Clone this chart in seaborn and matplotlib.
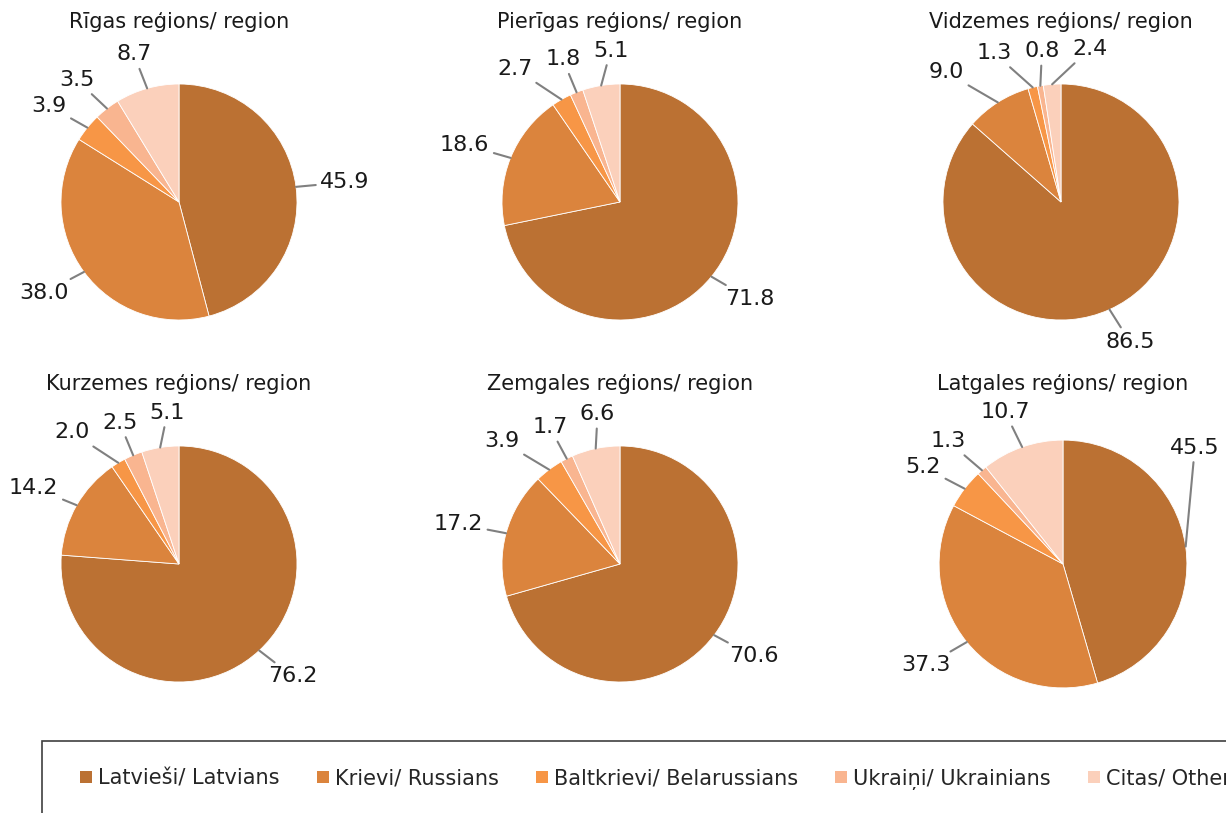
import numpy as np
import matplotlib
matplotlib.use('Agg')
import matplotlib.pyplot as plt
from matplotlib.patches import Rectangle, Patch
import seaborn as sns

sns.set_theme(style='white')
plt.rcParams['font.family'] = ['DejaVu Sans']

regions = ['Rīgas reģions/ region', 'Pierīgas reģions/ region', 'Vidzemes reģions/ region',
           'Kurzemes reģions/ region', 'Zemgales reģions/ region', 'Latgales reģions/ region']
groups = ['Latvieši/ Latvians', 'Krievi/ Russians', 'Baltkrievi/ Belarussians',
          'Ukraiņi/ Ukrainians', 'Citas/ Others']
latvians = [45.9, 71.8, 86.5, 76.2, 70.6, 45.5]
russians = [38.0, 18.6, 9.0, 14.2, 17.2, 37.3]
belarussians = [3.9, 2.7, 1.3, 2.0, 3.9, 5.2]
ukrainians = [3.5, 1.8, 0.8, 2.5, 1.7, 1.3]
others = [8.7, 5.1, 2.4, 5.1, 6.6, 10.7]

colors = ['#BB7133', '#DB843D', '#F79646', '#F9B590', '#FBD0BB']
pie_radius = [1.0, 1.0, 1.0, 1.0, 1.0, 1.05]

W, H = 1226, 813
R_PX = 118
centers = [(179, 202), (620, 202), (1061, 202), (179, 564), (620, 564), (1063, 564)]


def place_labels(vals, radius, x_max):
    '''Label positions along the wedge mid angles, spread apart where they collide.'''
    fracs = np.array(vals) / sum(vals)
    mids = 90 - (np.cumsum(fracs) - fracs / 2) * 360
    ang = np.deg2rad(mids)
    edge = np.c_[np.cos(ang), np.sin(ang)] * radius
    widths = np.array([len(f'{v:.1f}') * 0.115 for v in vals])
    rl = 1.42 * radius
    pos = np.c_[rl * np.cos(ang), 1.3 * radius * np.sin(ang)]
    # slide labels that would run off the figure up along the circle
    for i in range(len(vals)):
        lim = x_max - widths[i] / 2
        if pos[i, 0] > lim:
            a = np.arccos(min(lim / rl, 1.0))
            pos[i] = [lim, rl * np.sin(a)]
    sx = np.sign(pos[:, None, 0] - pos[None, :, 0])
    sy = np.sign(pos[:, None, 1] - pos[None, :, 1])
    h = 0.2
    for _ in range(300):
        moved = False
        for i in range(len(vals)):
            for j in range(i + 1, len(vals)):
                dx = pos[j, 0] - pos[i, 0]
                dy = pos[j, 1] - pos[i, 1]
                need_x = (widths[i] + widths[j]) / 2 + 0.06 - abs(dx)
                need_y = h + 0.02 - abs(dy)
                if need_x > 0 and need_y > 0:
                    moved = True
                    if abs(pos[i, 1] + pos[j, 1]) > abs(pos[i, 0] + pos[j, 0]):
                        s = sx[j, i] if sx[j, i] != 0 else 1
                        gap = (widths[i] + widths[j]) / 2 + 0.06 - s * dx
                        pos[i, 0] -= s * gap / 2
                        pos[j, 0] += s * gap / 2
                    else:
                        s = sy[j, i] if sy[j, i] != 0 else 1
                        gap = h + 0.02 - s * dy
                        pos[i, 1] -= s * gap / 2
                        pos[j, 1] += s * gap / 2
        if not moved:
            break
    return edge, pos


fig = plt.figure(figsize=(W / 100, H / 100), dpi=100)
aw, ah = 441, 362

for k, region in enumerate(regions):
    vals = [latvians[k], russians[k], belarussians[k], ukrainians[k], others[k]]
    cx, cy = centers[k]
    ax = fig.add_axes([(cx - aw / 2) / W, 1 - (cy + ah / 2) / H, aw / W, ah / H])
    ax.pie(vals, colors=colors, startangle=90, counterclock=False, radius=pie_radius[k],
           wedgeprops=dict(edgecolor='white', linewidth=0.6))
    ax.set_aspect('equal')
    ax.set_xlim(-aw / 2 / R_PX, aw / 2 / R_PX)
    ax.set_ylim(-ah / 2 / R_PX, ah / 2 / R_PX)
    ax.axis('off')
    ax.text(0, 1.525, region, ha='center', va='center', fontsize=15, color='#1a1a1a')

    edge, pos = place_labels(vals, pie_radius[k], (W - 4 - cx) / R_PX)
    for v, e, p in zip(vals, edge, pos):
        ax.annotate(f'{v:.1f}', xy=e, xytext=p, ha='center', va='center',
                    fontsize=16, color='#1a1a1a', annotation_clip=False,
                    arrowprops=dict(arrowstyle='-', color='#808080', lw=1.5,
                                    shrinkA=1, shrinkB=0))

# legend box, running past the right and bottom edges
fig.patches.append(Rectangle((42 / W, -0.05), 1.1, (813 - 741) / H + 0.05,
                             transform=fig.transFigure, fill=False,
                             edgecolor='#404040', linewidth=1.2))
handles = [Patch(facecolor=c, edgecolor='none') for c in colors]
fig.legend(handles, groups, loc='center left', bbox_to_anchor=(72 / W, 1 - 779 / H),
           ncol=5, frameon=False, fontsize=15, handlelength=0.55, handleheight=0.55,
           handletextpad=0.3, columnspacing=1.8, borderaxespad=0)

fig.savefig('out.png', dpi=100)
